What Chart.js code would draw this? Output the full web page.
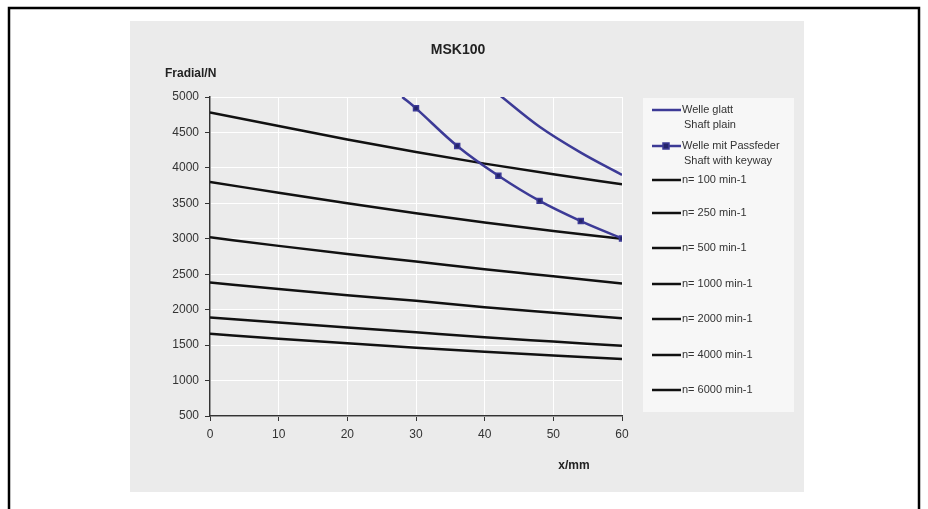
<!DOCTYPE html>
<html>
<head>
<meta charset="utf-8">
<script src="https://cdn.jsdelivr.net/npm/chart.js@4/dist/chart.umd.min.js"></script>
<style>
  html, body { margin: 0; padding: 0; background: #fff; }
  #wrap { width: 928px; height: 509px; position: relative; }
</style>
</head>
<body>
<div id="wrap"><canvas id="chart" width="928" height="509"></canvas></div>
<script>
// x positions (mm)
const xSteps = [0, 10, 20, 30, 40, 50, 60];
const xKeyway = [28, 30, 36, 42, 48, 54, 60];
const xPlain = [42, 48, 54, 60];

// Fradial/N values
const plain = [5040, 4580, 4215, 3900];
const keyway = [5000, 4840, 4310, 3890, 3535, 3250, 3005];
const n100 = [4780, 4590, 4400, 4225, 4060, 3910, 3770];
const n250 = [3800, 3650, 3500, 3360, 3230, 3110, 3000];
const n500 = [3020, 2900, 2785, 2680, 2570, 2470, 2370];
const n1000 = [2385, 2290, 2205, 2125, 2035, 1955, 1880];
const n2000 = [1890, 1820, 1750, 1680, 1610, 1550, 1490];
const n4000 = [1660, 1590, 1525, 1462, 1405, 1355, 1305];
const n6000 = [];

const legendLabels = [
  ['Welle glatt', 'Shaft plain'],
  ['Welle mit Passfeder', 'Shaft with keyway'],
  ['n= 100 min-1'], ['n= 250 min-1'], ['n= 500 min-1'], ['n= 1000 min-1'],
  ['n= 2000 min-1'], ['n= 4000 min-1'], ['n= 6000 min-1']
];

const BLUE = '#3c3a96';
const FONT = '"Liberation Sans", Arial, sans-serif';

function pts(xs, ys) { return ys.map((y, i) => ({ x: xs[i], y: y })); }

function blackLine(label, ys) {
  return {
    label: label, data: pts(xSteps, ys),
    borderColor: '#111', borderWidth: 2.5, pointRadius: 0,
    cubicInterpolationMode: 'monotone'
  };
}

const datasets = [
  { label: 'Welle glatt', data: pts(xPlain, plain), borderColor: BLUE, borderWidth: 2.5,
    pointRadius: 0, tension: 0.35 },
  { label: 'Welle mit Passfeder', data: pts(xKeyway, keyway), borderColor: BLUE, borderWidth: 2.5,
    pointStyle: 'rect', pointRadius: keyway.map((v, i) => i === 0 ? 0 : 3.5),
    pointBackgroundColor: '#24246a', pointBorderColor: BLUE, pointBorderWidth: 1.5,
    tension: 0.35 },
  blackLine('n= 100 min-1', n100),
  blackLine('n= 250 min-1', n250),
  blackLine('n= 500 min-1', n500),
  blackLine('n= 1000 min-1', n1000),
  blackLine('n= 2000 min-1', n2000),
  blackLine('n= 4000 min-1', n4000),
  blackLine('n= 6000 min-1', n6000)
];

// backgrounds, titles and the boxed legend
const decor = {
  id: 'decor',
  beforeDraw(chart) {
    const c = chart.ctx;
    c.save();
    c.fillStyle = '#fff';
    c.fillRect(0, 0, 928, 509);
    c.strokeStyle = '#000';
    c.lineWidth = 2.5;
    c.strokeRect(9, 8, 910, 520);
    c.fillStyle = '#ebebeb';
    c.fillRect(130, 21, 674, 471);
    c.restore();
  },
  afterDraw(chart) {
    const c = chart.ctx;
    c.save();
    c.fillStyle = '#222';
    c.textBaseline = 'middle';
    c.textAlign = 'center';
    c.font = 'bold 14px ' + FONT;
    c.fillText('MSK100', 458, 50);
    c.font = 'bold 12px ' + FONT;
    c.textAlign = 'left';
    c.fillText('Fradial/N', 165, 74);
    c.textAlign = 'center';
    c.fillText('x/mm', 574, 466);

    // legend box
    c.fillStyle = '#f7f7f7';
    c.fillRect(643, 98, 151, 314);
    const rows = [110, 146, 180, 213, 248, 284, 319, 355, 390];
    c.font = '11px ' + FONT;
    c.textAlign = 'left';
    chart.data.datasets.forEach((ds, i) => {
      const y = rows[i];
      c.strokeStyle = ds.borderColor;
      c.lineWidth = 2.5;
      c.beginPath();
      c.moveTo(652, y);
      c.lineTo(681, y);
      c.stroke();
      if (ds.pointStyle === 'rect') {
        c.fillStyle = '#24246a';
        c.strokeStyle = BLUE;
        c.lineWidth = 1.5;
        c.fillRect(663, y - 3, 6, 6);
        c.strokeRect(663, y - 3, 6, 6);
      }
      c.fillStyle = '#333';
      legendLabels[i].forEach((t, k) => {
        c.fillText(t, 682 + (k > 0 ? 2 : 0), y + k * 15);
      });
    });
    c.restore();
  }
};

new Chart(document.getElementById('chart').getContext('2d'), {
  type: 'line',
  data: { datasets: datasets },
  plugins: [decor],
  options: {
    responsive: false,
    animation: false,
    layout: { padding: { left: 130, top: 97, right: 306, bottom: 53 } },
    plugins: { legend: { display: false }, tooltip: { enabled: false } },
    scales: {
      x: {
        type: 'linear', min: 0, max: 60,
        afterFit: s => { s.height = 40; },
        ticks: { stepSize: 10, color: '#333', font: { family: FONT, size: 12 }, padding: 6 },
        grid: { color: '#fff', lineWidth: 1, tickColor: '#333', tickLength: 5 },
        border: { color: '#333', width: 1.5 }
      },
      y: {
        min: 500, max: 5000,
        afterFit: s => { s.width = 80; },
        ticks: { stepSize: 500, color: '#333', font: { family: FONT, size: 12 }, padding: 6,
          callback: v => String(v) },
        grid: { color: '#fff', lineWidth: 1, tickColor: '#333', tickLength: 5 },
        border: { color: '#333', width: 1.5 }
      }
    }
  }
});
</script>
</body>
</html>
